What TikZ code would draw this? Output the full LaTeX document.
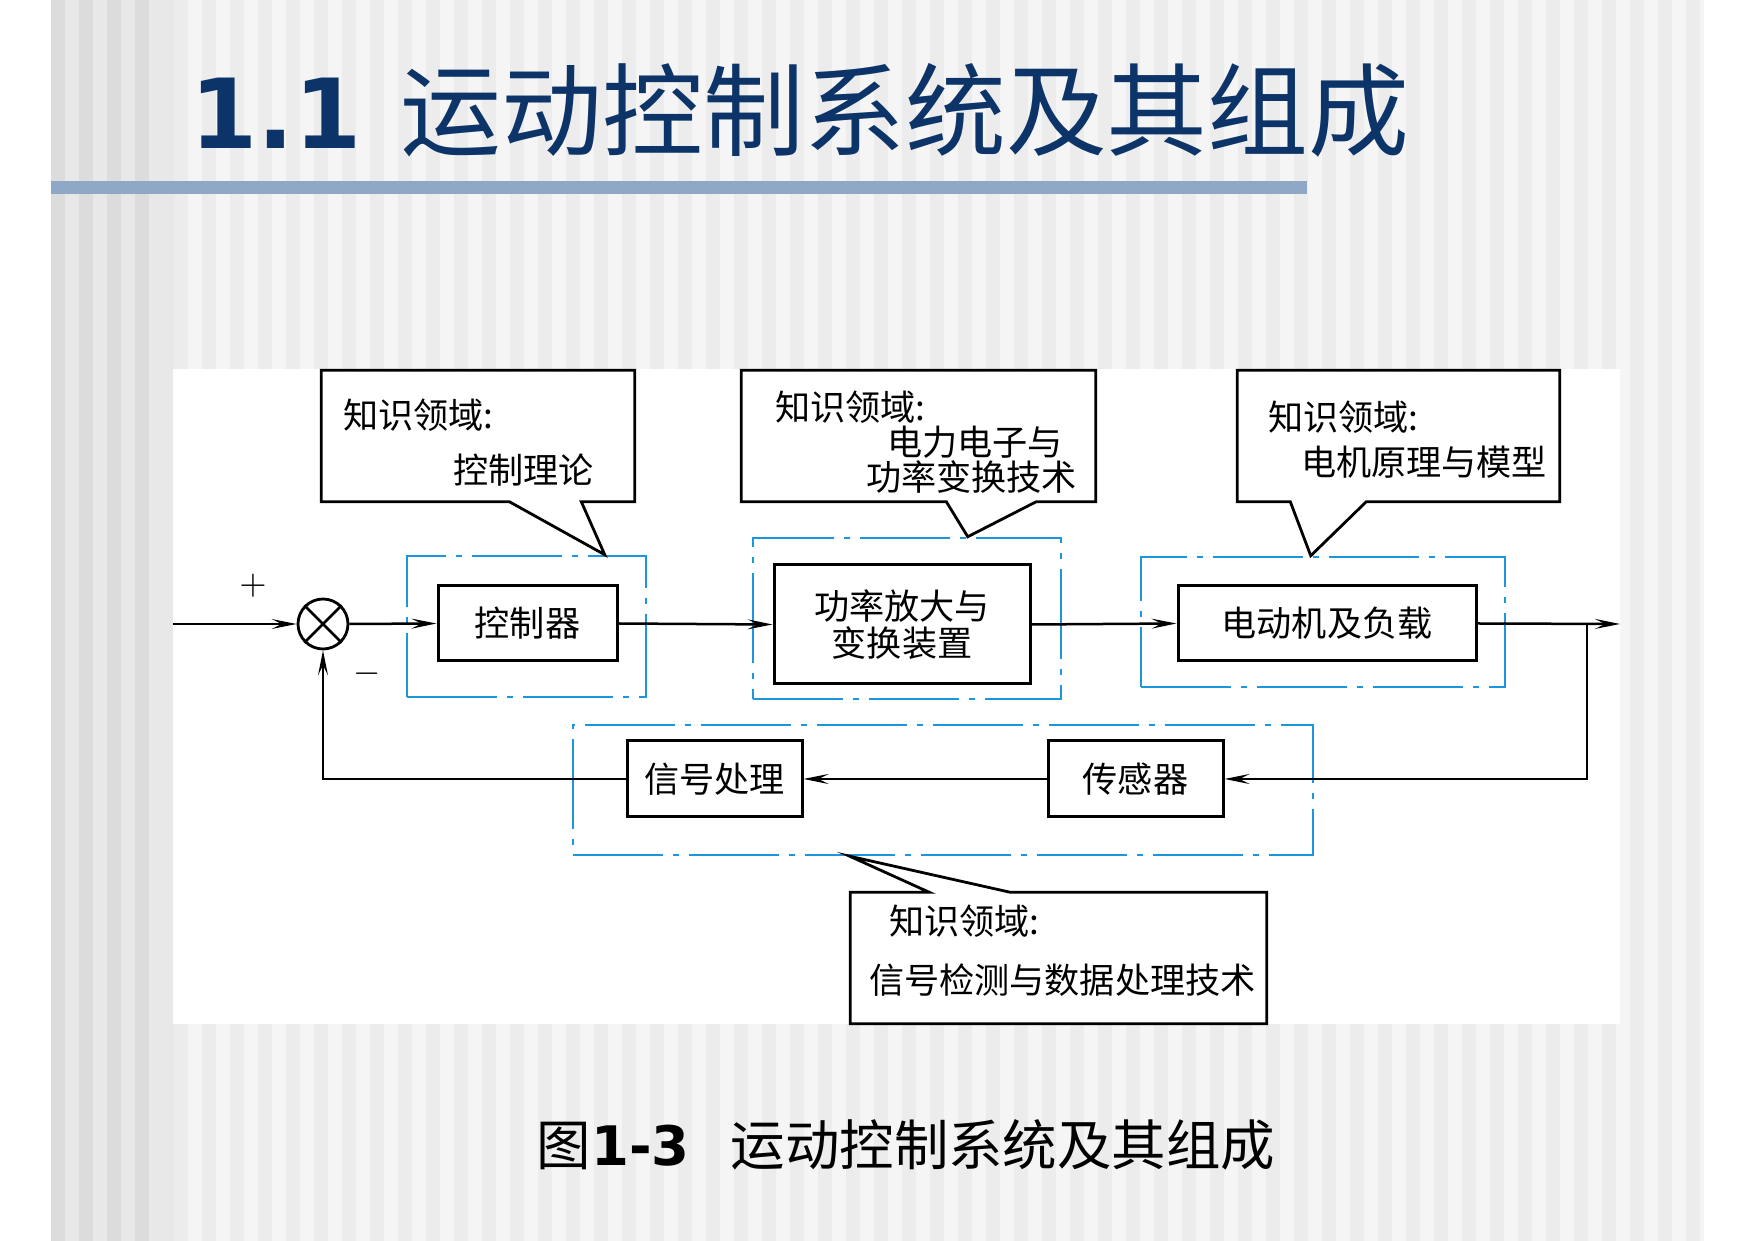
\documentclass[tikz,border=0pt]{standalone}
\usepackage{fontspec}
\setmainfont{DejaVu Sans}
\newfontfamily\cjk{Noto Sans CJK SC}
\usepackage{xcolor}
\usepackage{tikz}
\usetikzlibrary{calc, arrows.meta, positioning}
\definecolor{titlenavy}{RGB}{12, 52, 104}
\definecolor{barblue}{RGB}{143, 168, 198}
\definecolor{groupblue}{RGB}{28, 150, 220}
\definecolor{slidegray}{RGB}{245, 245, 245}
\definecolor{stripegray}{RGB}{236, 236, 236}
\definecolor{bandlight}{RGB}{232, 232, 232}
\definecolor{banddark}{RGB}{220, 220, 220}

\begin{document}
\begin{tikzpicture}[
    x=0.1mm, y=-0.1mm,
    block/.style={draw, line width=0.3mm, inner sep=0pt, align=center, font=\cjk\fontsize{10}{10.4}\selectfont},
    group/.style={draw=groupblue, line width=0.25mm, inner sep=0pt, dash pattern=on 9mm off 1mm on 0.6mm off 1mm},
    kbox/.style={inner sep=0pt},
    kbline/.style={line width=0.28mm, fill=white, line join=miter},
    kbtext/.style={anchor=base west, inner sep=0pt, font=\cjk\fontsize{10}{12}\selectfont},
    sig/.style={-{Stealth[length=2.5mm, width=1mm, inset=1mm]}, line width=0.25mm},
    sign/.style={inner sep=0pt, font=\fontsize{10}{12}\selectfont}
]
    \useasboundingbox (0,0) rectangle (1755,1241);

    % slide background
    \fill[white] (0,0) rectangle (1755,1241);
    \fill[slidegray] (51,0) rectangle (1704,1241);
    \foreach \sx in {174,202,...,1690}
        \fill[stripegray] (\sx,0) rectangle ++(14,1241);
    \fill[bandlight] (51,0) rectangle (174,1241);
    \foreach \sx in {51,79,...,160}
        \fill[banddark] (\sx,0) rectangle ++(14,1241);
    \fill[barblue] (51,181) rectangle (1307,194);
    \fill[white] (173,369) rectangle (1620,1024);

    \node[anchor=base west, inner sep=0pt, text=titlenavy] (title) at (190,149)
        {\fontsize{27.5}{30}\selectfont\bfseries 1.1\hspace{3.9mm}{\cjk\mdseries\fontsize{28.7}{32}\selectfont 运动控制系统及其组成}};

    % main loop
    \node[circle, draw, line width=0.28mm, minimum size=5mm, inner sep=0pt] (sum) at (323,624) {};
    \draw[line width=0.25mm] (sum.north west) -- (sum.south east) (sum.north east) -- (sum.south west);
    \node[block, minimum width=17.9mm, minimum height=7.5mm] (ctrl) at (527.5,623.5) {控制器};
    \node[block, minimum width=25.6mm, minimum height=11.9mm] (amp) at (902,624.5) {功率放大与\\变换装置};
    \node[block, minimum width=29.8mm, minimum height=7.5mm] (motor) at (1327,623.5) {电动机及负载};
    \node[block, minimum width=17.5mm, minimum height=7.6mm] (sigproc) at (714.5,779) {信号处理};
    \node[block, minimum width=17.5mm, minimum height=7.6mm] (sensor) at (1135.5,779) {传感器};

    \node[group, minimum width=23.9mm, minimum height=14.1mm] (grpctrl) at (526.5,626.5) {};
    \node[group, minimum width=30.8mm, minimum height=16.1mm] (grpamp) at (907,618.5) {};
    \node[group, minimum width=36.4mm, minimum height=13mm] (grpmotor) at (1323,622) {};
    \node[group, minimum width=74mm, minimum height=13mm] (grpfb) at (943,790) {};

    \node[sign] (plus) at (253,586) {$+$};
    \node[sign] (minus) at (367,674) {$-$};

    \coordinate (in) at (173,624);
    \coordinate (branch) at (1587,624);
    \coordinate (out) at (1620,624);
    \draw[sig] (in) -- (sum.west);
    \draw[sig] (sum.east) -- (ctrl.west);
    \draw[sig] (ctrl.east) -- (amp.west);
    \draw[sig] (amp.east) -- (motor.west);
    \draw[sig] (motor.east) -- (out);
    \draw[sig] (branch) |- (sensor.east);
    \draw[sig] (sensor.west) -- (sigproc.east);
    \draw[sig] (sigproc.west) -| (sum.south);

    % knowledge callouts
    \node[kbox, minimum width=31.2mm, minimum height=13mm] (kbctrl) at (478,436) {};
    \draw[kbline] (kbctrl.north west) -- (kbctrl.north east) -- (kbctrl.south east)
        -- ($(kbctrl.south west)+(260,0)$) -- ($(grpctrl.north west)+(199,0)$)
        -- ($(kbctrl.south west)+(188,0)$) -- (kbctrl.south west) -- cycle;
    \node[kbtext] (kbctrla) at ($(kbctrl.north west)+(21,58)$) {知识领域:};
    \node[kbtext] (kbctrlb) at ($(kbctrl.north west)+(131,113)$) {控制理论};

    \node[kbox, minimum width=35.3mm, minimum height=13mm] (kbamp) at (918.5,436) {};
    \draw[kbline] (kbamp.north west) -- (kbamp.north east) -- (kbamp.south east)
        -- ($(kbamp.south west)+(295,0)$) -- ($(grpamp.north west)+(216,0)$)
        -- ($(kbamp.south west)+(205,0)$) -- (kbamp.south west) -- cycle;
    \node[kbtext] (kbampa) at ($(kbamp.north west)+(33,50)$) {知识领域:};
    \node[kbtext] (kbampb) at ($(kbamp.north west)+(145,85)$) {电力电子与};
    \node[kbtext] (kbampc) at ($(kbamp.north west)+(124,120)$) {功率变换技术};

    \node[kbox, minimum width=32.1mm, minimum height=13mm] (kbmotor) at (1398.5,436) {};
    \draw[kbline] (kbmotor.north west) -- (kbmotor.north east) -- (kbmotor.south east)
        -- ($(kbmotor.south west)+(129,0)$) -- ($(grpmotor.north west)+(171,0)$)
        -- ($(kbmotor.south west)+(53,0)$) -- (kbmotor.south west) -- cycle;
    \node[kbtext] (kbmotora) at ($(kbmotor.north west)+(30,60)$) {知识领域:};
    \node[kbtext] (kbmotorb) at ($(kbmotor.north west)+(63,105)$) {电机原理与模型};

    \node[kbox, minimum width=41.5mm, minimum height=13mm] (kbfb) at (1058.5,958) {};
    \draw[kbline] (kbfb.south west) -- (kbfb.south east) -- (kbfb.north east)
        -- ($(kbfb.north west)+(160,0)$) -- ($(grpfb.south west)+(278,0)$)
        -- ($(kbfb.north west)+(79,0)$) -- (kbfb.north west) -- cycle;
    \node[kbtext] (kbfba) at ($(kbfb.north west)+(38,42)$) {知识领域:};
    \node[kbtext] (kbfbb) at ($(kbfb.north west)+(18,101)$) {信号检测与数据处理技术};

    \node[anchor=base west, inner sep=0pt] (caption) at (536,1166)
        {\fontsize{15.5}{18}\selectfont{\cjk 图}\textbf{1-3}\hspace{4.1mm}{\cjk 运动控制系统及其组成}};
\end{tikzpicture}
\end{document}
